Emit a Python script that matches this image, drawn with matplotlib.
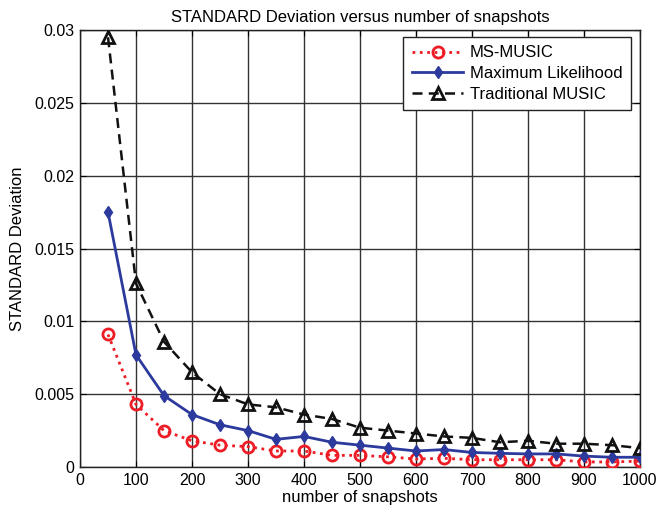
import matplotlib
matplotlib.use("Agg")
import matplotlib.pyplot as plt

plt.rcParams['font.family'] = ['Liberation Sans', 'DejaVu Sans']

snapshots = [50, 100, 150, 200, 250, 300, 350, 400, 450, 500,
             550, 600, 650, 700, 750, 800, 850, 900, 950, 1000]
ms_music = [0.0091, 0.0043, 0.0025, 0.0018, 0.0015, 0.0014, 0.0011, 0.0011, 0.0008, 0.0008,
            0.0007, 0.00055, 0.0006, 0.0005, 0.0005, 0.0005, 0.0005, 0.00035, 0.00035, 0.0004]
max_likelihood = [0.0175, 0.0077, 0.0049, 0.0036, 0.0029, 0.0025, 0.0019, 0.0021, 0.0017, 0.0015,
                  0.0013, 0.0011, 0.0012, 0.0010, 0.00094, 0.0009, 0.0009, 0.00075, 0.00067, 0.00067]
traditional_music = [0.0295, 0.0126, 0.0086, 0.0065, 0.0050, 0.0043, 0.0041, 0.0036, 0.0033, 0.0027,
                     0.0025, 0.0023, 0.0021, 0.0020, 0.0017, 0.0018, 0.0016, 0.0016, 0.0015, 0.0013]
xticks = [0, 100, 200, 300, 400, 500, 600, 700, 800, 900, 1000]
yticks = [0, 0.005, 0.01, 0.015, 0.02, 0.025, 0.03]
ytick_labels = ['0', '0.005', '0.01', '0.015', '0.02', '0.025', '0.03']

fig = plt.figure(figsize=(6.57, 5.14), dpi=100)
ax = fig.add_axes([0.1218, 0.0914, 0.8523, 0.8502])

ax.plot(snapshots, ms_music, color='#ee1c25', linestyle=':', linewidth=2,
        marker='o', markersize=8, markerfacecolor='none', markeredgewidth=2,
        label='MS-MUSIC', zorder=3)
ax.plot(snapshots, max_likelihood, color='#2b3a9c', linestyle='-', linewidth=2,
        marker='d', markersize=6, markerfacecolor='#2b3a9c', markeredgewidth=1,
        label='Maximum Likelihood', zorder=4)
ax.plot(snapshots, traditional_music, color='#111111', linestyle=(0, (4, 2.5)), linewidth=1.8,
        marker='^', markersize=9, markerfacecolor='none', markeredgewidth=2,
        label='Traditional MUSIC', zorder=5)

ax.set_xlim(0, 1000)
ax.set_ylim(0, 0.03)
ax.set_xticks(xticks)
ax.set_xticklabels([str(v) for v in xticks])
ax.set_yticks(yticks)
ax.set_yticklabels(ytick_labels)
ax.tick_params(direction='in', labelsize=11.5, length=4, top=True, right=True, pad=4)
ax.grid(True, color='#333333', linewidth=1, linestyle='-')
ax.set_axisbelow(True)
for s in ax.spines.values():
    s.set_linewidth(1)
    s.set_color('#222222')

ax.set_xlabel('number of snapshots', fontsize=12, labelpad=2)
ax.set_ylabel('STANDARD Deviation', fontsize=12, labelpad=7)
ax.set_title('STANDARD Deviation versus number of snapshots', fontsize=12, pad=6)

leg = ax.legend(loc='upper right', fontsize=12, fancybox=False, framealpha=1,
                edgecolor='#222222', borderaxespad=0, handlelength=3.1,
                handletextpad=0.4, borderpad=0.5, labelspacing=0.35,
                bbox_to_anchor=(0.984, 0.984))
leg.get_frame().set_linewidth(1)

fig.savefig('out.png', dpi=100)
